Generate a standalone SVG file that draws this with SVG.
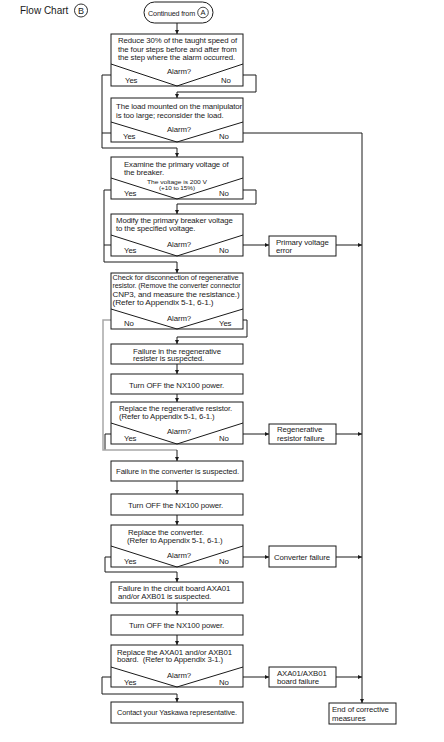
<svg xmlns="http://www.w3.org/2000/svg" width="444" height="742" viewBox="0 0 444 742">
<style>
text{font-family:"Liberation Sans",Arial,Helvetica,sans-serif;fill:#1a1a1a}
.t{font-size:7.8px;letter-spacing:-0.1px}
.s{font-size:5.8px;letter-spacing:-0.05px}
.c{text-anchor:middle}
.b{fill:#fff;stroke:#1a1a1a;stroke-width:1}
.v{fill:none;stroke:#1a1a1a;stroke-width:1}
.ln{fill:none;stroke:#1a1a1a;stroke-width:1}
.g{fill:none;stroke:#a8a8a8;stroke-width:1.5}
</style>
<defs>
<marker id="ar" viewBox="0 0 6 6" markerWidth="4" markerHeight="4" refX="6" refY="3" orient="auto" markerUnits="userSpaceOnUse">
<path d="M0,0 L6,3 L0,6 z" fill="#1a1a1a"/>
</marker>
</defs>

<g id="title">
<text x="20" y="14" style="font-size:10px">Flow Chart</text>
<circle cx="81" cy="10.5" r="6.5" fill="none" stroke="#1a1a1a" stroke-width="0.9"/>
<text x="81" y="14" class="c" style="font-size:9px">B</text>
</g>

<g id="connectors">
<path class="ln" d="M177,23 V34" marker-end="url(#ar)"/>
<path class="ln" d="M243,75 H256 V92 H177 V98" marker-end="url(#ar)"/>
<path class="ln" d="M111,75 H102 V148 H177 V157" marker-end="url(#ar)"/>
<path class="ln" d="M111,133 H102"/>
<path class="ln" d="M243,133 H362 V703" marker-end="url(#ar)"/>
<path class="ln" d="M243,190 H256 V204 H177 V214" marker-end="url(#ar)"/>
<path class="ln" d="M111,190 H104 V262 H177 V273" marker-end="url(#ar)"/>
<path class="ln" d="M111,245 H104"/>
<path class="ln" d="M243,245 H269" marker-end="url(#ar)"/>
<path class="ln" d="M336,245 H362" marker-end="url(#ar)"/>
<path class="ln" d="M243,320 H247 V337 H177 V344" marker-end="url(#ar)"/>
<path class="ln" d="M177,364 V374" marker-end="url(#ar)"/>
<path class="ln" d="M177,394 V402" marker-end="url(#ar)"/>
<path class="ln" d="M111,434 H105 V450"/>
<path class="g" d="M111,320 H103 V450 H177"/>
<path class="ln" d="M177,450 V461" marker-end="url(#ar)"/>
<path class="ln" d="M243,434 H269" marker-end="url(#ar)"/>
<path class="ln" d="M336,434 H362" marker-end="url(#ar)"/>
<path class="ln" d="M177,481 V494" marker-end="url(#ar)"/>
<path class="ln" d="M177,515 V525" marker-end="url(#ar)"/>
<path class="ln" d="M243,557 H269" marker-end="url(#ar)"/>
<path class="ln" d="M336,557 H362" marker-end="url(#ar)"/>
<path class="ln" d="M111,557 H105 V572 H177 V582" marker-end="url(#ar)"/>
<path class="ln" d="M177,603 V615" marker-end="url(#ar)"/>
<path class="ln" d="M177,635 V645" marker-end="url(#ar)"/>
<path class="ln" d="M243,677 H269" marker-end="url(#ar)"/>
<path class="ln" d="M336,677 H362" marker-end="url(#ar)"/>
<path class="ln" d="M111,677 H102 V694 H177 V702" marker-end="url(#ar)"/>
</g>

<g id="start">
<rect class="b" x="144" y="2" width="69" height="21" rx="10.5"/>
<text x="148" y="15.5" style="font-size:7.2px;letter-spacing:-0.15px">Continued from</text>
<circle cx="203" cy="12.5" r="5.3" fill="none" stroke="#1a1a1a" stroke-width="0.8"/>
<text x="203" y="15.3" class="c" style="font-size:7.5px">A</text>
</g>

<g id="n1">
<rect class="b" x="111" y="34" width="132" height="52"/>
<path class="v" d="M111,64 L177,86 L243,64"/>
<text class="t" x="118" y="43">Reduce 30% of the taught speed of</text>
<text class="t" x="118" y="51.7">the four steps before and after from</text>
<text class="t" x="118" y="60.3">the step where the alarm occurred.</text>
<text class="t c" x="179" y="74">Alarm?</text>
<text class="t" x="125" y="83">Yes</text>
<text class="t" x="221" y="83">No</text>
</g>

<g id="n2">
<rect class="b" x="111" y="98" width="132" height="44"/>
<path class="v" d="M111,122 L177,142 L243,122"/>
<text class="t" x="116" y="109">The load mounted on the manipulator</text>
<text class="t" x="116" y="117.5">is too large; reconsider the load.</text>
<text class="t c" x="179" y="131.5">Alarm?</text>
<text class="t" x="123" y="139">Yes</text>
<text class="t" x="219" y="139">No</text>
</g>

<g id="n3">
<rect class="b" x="111" y="157" width="132" height="42"/>
<path class="v" d="M111,178 L177,199 L243,178"/>
<text class="t" x="124" y="167">Examine the primary voltage of</text>
<text class="t" x="124" y="175">the breaker.</text>
<text class="s c" x="177" y="184.3" textLength="60" lengthAdjust="spacingAndGlyphs">The voltage is 200 V</text>
<text class="s c" x="177" y="189.8" textLength="36" lengthAdjust="spacingAndGlyphs">(+10 to 15%)</text>
<text class="t" x="124" y="196">Yes</text>
<text class="t" x="219" y="196">No</text>
</g>

<g id="n4">
<rect class="b" x="111" y="214" width="132" height="42"/>
<path class="v" d="M111,235 L177,256 L243,235"/>
<text class="t" x="116" y="223">Modify the primary breaker voltage</text>
<text class="t" x="116" y="231">to the specified voltage.</text>
<text class="t c" x="179" y="246.5">Alarm?</text>
<text class="t" x="124" y="253">Yes</text>
<text class="t" x="219" y="253">No</text>
</g>

<g id="n4e">
<rect class="b" x="269" y="236" width="67" height="20"/>
<text class="t" x="276" y="244.5">Primary voltage</text>
<text class="t" x="276" y="252.5">error</text>
</g>

<g id="n5">
<rect class="b" x="111" y="273" width="132" height="56"/>
<path class="v" d="M111,309 L177,329 L243,309"/>
<text class="t" x="112.5" y="279.5" textLength="126" lengthAdjust="spacingAndGlyphs">Check for disconnection of regenerative</text>
<text class="t" x="112.5" y="288" textLength="128" lengthAdjust="spacingAndGlyphs">resistor. (Remove the converter connector</text>
<text class="t" x="112.5" y="296.5" textLength="127" lengthAdjust="spacingAndGlyphs">CNP3, and measure the resistance.)</text>
<text class="t" x="112.5" y="305" textLength="101" lengthAdjust="spacingAndGlyphs">(Refer to Appendix 5-1, 6-1.)</text>
<text class="t c" x="179" y="321">Alarm?</text>
<text class="t" x="124" y="326">No</text>
<text class="t" x="219" y="326">Yes</text>
</g>

<g id="n6">
<rect class="b" x="111" y="344" width="132" height="20"/>
<text class="t" x="133" y="353.5">Failure in the regenerative</text>
<text class="t" x="133" y="361">resister is suspected.</text>
</g>

<g id="n7">
<rect class="b" x="111" y="374" width="132" height="20"/>
<text class="t" x="129" y="387.5">Turn OFF the NX100 power.</text>
</g>

<g id="n8">
<rect class="b" x="111" y="402" width="132" height="42"/>
<path class="v" d="M111,423 L177,444 L243,423"/>
<text class="t" x="119" y="411">Replace the regenerative resistor.</text>
<text class="t" x="119" y="418.5">(Refer to Appendix 5-1, 6-1.)</text>
<text class="t c" x="179" y="434">Alarm?</text>
<text class="t" x="124" y="441">Yes</text>
<text class="t" x="219" y="441">No</text>
</g>

<g id="n8e">
<rect class="b" x="269" y="424" width="67" height="20"/>
<text class="t" x="277" y="432">Regenerative</text>
<text class="t" x="277" y="440.5">resistor failure</text>
</g>

<g id="n9">
<rect class="b" x="111" y="461" width="132" height="20"/>
<text class="t" x="116" y="473.5" textLength="123" lengthAdjust="spacingAndGlyphs">Failure in the converter is suspected.</text>
</g>

<g id="n10">
<rect class="b" x="111" y="494" width="132" height="21"/>
<text class="t" x="128" y="507.5">Turn OFF the NX100 power.</text>
</g>

<g id="n11">
<rect class="b" x="111" y="525" width="132" height="42"/>
<path class="v" d="M111,546 L177,567 L243,546"/>
<text class="t" x="128" y="535">Replace the converter.</text>
<text class="t" x="127" y="543">(Refer to Appendix 5-1, 6-1.)</text>
<text class="t c" x="179" y="557.5">Alarm?</text>
<text class="t" x="124" y="564">Yes</text>
<text class="t" x="219" y="564">No</text>
</g>

<g id="n11e">
<rect class="b" x="269" y="546" width="67" height="21"/>
<text class="t" x="274" y="559.5">Converter failure</text>
</g>

<g id="n12">
<rect class="b" x="111" y="582" width="132" height="21"/>
<text class="t" x="118" y="591">Failure in the circuit board AXA01</text>
<text class="t" x="118" y="598.5">and/or AXB01 is suspected.</text>
</g>

<g id="n13">
<rect class="b" x="111" y="615" width="132" height="20"/>
<text class="t" x="129" y="627.5">Turn OFF the NX100 power.</text>
</g>

<g id="n14">
<rect class="b" x="111" y="645" width="132" height="42"/>
<path class="v" d="M111,667 L177,687 L243,667"/>
<text class="t" x="117" y="654.5">Replace the AXA01 and/or AXB01</text>
<text class="t" x="117" y="662" xml:space="preserve">board.  (Refer to Appendix 3-1.)</text>
<text class="t c" x="179" y="678">Alarm?</text>
<text class="t" x="124" y="685">Yes</text>
<text class="t" x="219" y="685">No</text>
</g>

<g id="n14e">
<rect class="b" x="269" y="667" width="67" height="20"/>
<text class="t" x="277" y="675.5">AXA01/AXB01</text>
<text class="t" x="277" y="684">board failure</text>
</g>

<g id="n15">
<rect class="b" x="111" y="702" width="132" height="21"/>
<text class="t" x="117" y="715" textLength="120" lengthAdjust="spacingAndGlyphs">Contact your Yaskawa representative.</text>
</g>

<g id="end">
<rect class="b" x="329" y="703" width="67" height="21"/>
<text class="t" x="332" y="711.5">End of corrective</text>
<text class="t" x="332" y="720.5">measures</text>
</g>
</svg>
